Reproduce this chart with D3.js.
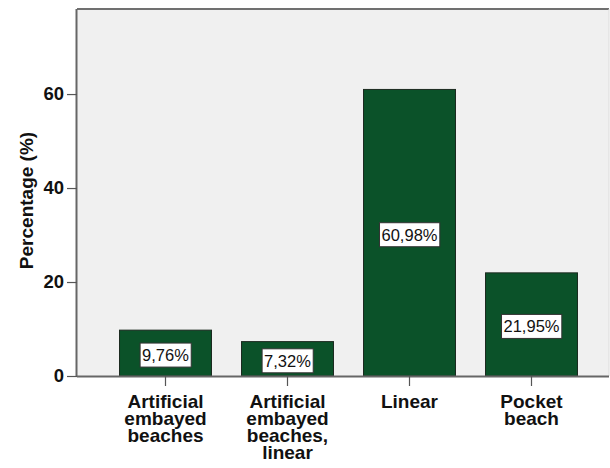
<!DOCTYPE html>
<html>
<head>
<meta charset="utf-8">
<script src="https://cdn.jsdelivr.net/npm/d3@7"></script>
<style>
  html, body { margin: 0; padding: 0; background: #ffffff; }
  svg { display: block; }
</style>
</head>
<body>
<svg id="chart" width="610" height="468"></svg>
<script>
const categories = ["Artificial embayed beaches", "Artificial embayed beaches, linear", "Linear", "Pocket beach"];
const categoryLines = [["Artificial", "embayed", "beaches"], ["Artificial", "embayed", "beaches,", "linear"], ["Linear"], ["Pocket", "beach"]];
const values = [9.76, 7.32, 60.98, 21.95];
const valueLabels = ["9,76%", "7,32%", "60,98%", "21,95%"];
const yTicks = [0, 20, 40, 60];
const yTitle = "Percentage (%)";

(function () {
const svg = d3.select("#chart");
const pL = 77, pR = 609, pT = 9, pB = 376;
const font = "Liberation Sans, Arial, sans-serif";

const x = d3.scaleBand().domain(categories).range([104.5, 592.5]).paddingInner(0.246).paddingOuter(0.123);
const y = d3.scaleLinear().domain([0, 78.1]).range([pB, pT]);

// plot background
svg.append("rect").attr("x", pL).attr("y", pT).attr("width", pR - pL).attr("height", pB - pT)
  .attr("fill", "#f0f0f0");

// frame top and right
svg.append("line").attr("x1", pL).attr("x2", pR).attr("y1", pT).attr("y2", pT)
  .attr("stroke", "#707070").attr("stroke-width", 2);
svg.append("line").attr("x1", pR).attr("x2", pR).attr("y1", pT).attr("y2", pB)
  .attr("stroke", "#dcdcdc").attr("stroke-width", 1);

// bars
svg.selectAll("rect.bar").data(categories).enter().append("rect")
  .attr("class", "bar")
  .attr("x", d => x(d))
  .attr("width", x.bandwidth())
  .attr("y", (d, i) => y(values[i]))
  .attr("height", (d, i) => y(0) - y(values[i]))
  .attr("fill", "#0b5229")
  .attr("stroke", "#1c2a20")
  .attr("stroke-width", 1);

// y axis
const yAxis = d3.axisLeft(y).tickValues(yTicks).tickSize(10).tickPadding(3).tickFormat(d3.format("d"));
const gy = svg.append("g").attr("transform", `translate(${pL},0)`).call(yAxis);
gy.select(".domain").attr("stroke", "#666").attr("stroke-width", 2).attr("d", `M-0.5,${pT}V${pB}`);
gy.selectAll(".tick line").attr("stroke", "#555").attr("stroke-width", 1.2);
gy.selectAll(".tick text").attr("fill", "#111").style("font-family", font)
  .style("font-size", "18.5px").style("font-weight", "bold");

// x axis
const xAxis = d3.axisBottom(x).tickSize(10).tickFormat("");
const gx = svg.append("g").attr("transform", `translate(0,${pB})`).call(xAxis);
gx.select(".domain").attr("stroke", "#666").attr("stroke-width", 2).attr("d", `M${pL},0.5H${pR}`);
gx.selectAll(".tick line").attr("stroke", "#555").attr("stroke-width", 1.2);

// category labels
const catG = svg.append("g");
categories.forEach((c, i) => {
  const t = catG.append("text")
    .attr("x", x(c) + x.bandwidth() / 2)
    .attr("y", 408)
    .attr("text-anchor", "middle")
    .attr("fill", "#111")
    .style("font-family", font)
    .style("font-size", "19px").style("font-weight", "bold");
  categoryLines[i].forEach((ln, j) => {
    t.append("tspan").attr("x", x(c) + x.bandwidth() / 2).attr("y", 408 + j * 17).text(ln);
  });
});

// y title
svg.append("text")
  .attr("transform", `translate(33,${(pT + pB) / 2 + 8}) rotate(-90)`)
  .attr("text-anchor", "middle")
  .attr("fill", "#111")
  .style("font-family", font)
  .style("font-size", "19px").style("font-weight", "bold")
  .text(yTitle);

// value labels
categories.forEach((c, i) => {
  const cx = x(c) + x.bandwidth() / 2;
  const cy = (y(values[i]) + y(0)) / 2 + 2;
  const g = svg.append("g");
  const txt = g.append("text")
    .attr("x", cx).attr("y", cy + 6)
    .attr("text-anchor", "middle")
    .attr("fill", "#111")
    .style("font-family", font)
    .style("font-size", "16.5px")
    .text(valueLabels[i]);
  const bb = txt.node().getBBox();
  g.insert("rect", "text")
    .attr("x", bb.x - 2).attr("y", cy - 12)
    .attr("width", bb.width + 4).attr("height", 24)
    .attr("fill", "#ffffff").attr("stroke", "#333").attr("stroke-width", 1);
});
})();
</script>
</body>
</html>
